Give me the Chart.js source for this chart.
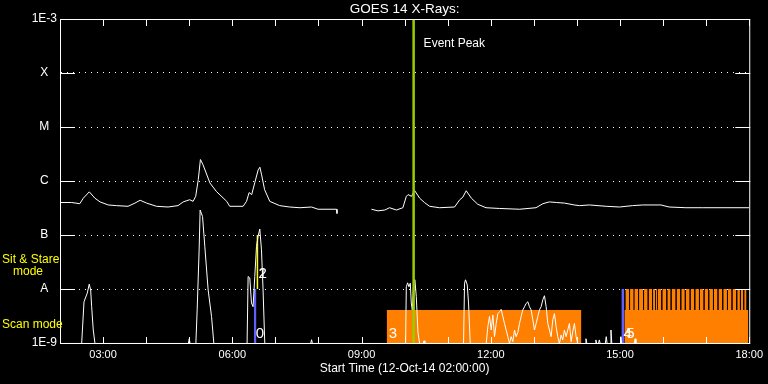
<!DOCTYPE html>
<html><head><meta charset="utf-8">
<script src="https://cdn.jsdelivr.net/npm/chart.js@4.4.0/dist/chart.umd.min.js"></script>
<style>html,body{margin:0;padding:0;background:#000;}canvas{display:block;}</style>
</head><body>
<canvas id="c" width="768" height="384"></canvas>
<script>
// ---- data (hours since 00:00 on 12-Oct-14, flux W/m^2) ----
const longTimes = [2.00,2.27,2.46,2.54,2.68,2.81,2.93,3.12,3.31,3.58,3.74,3.86,4.01,4.24,4.51,4.74,4.86,5.01,5.09,5.15,5.21,5.26,5.32,5.48,5.63,5.87,5.94,6.25,6.33,6.39,6.45,6.52,6.60,6.64,6.68,6.75,6.87,7.10,7.33,7.57,7.84,7.99,8.42,8.43,8.80,9.23,9.38,9.54,9.65,9.81,9.96,10.04,10.08,10.16,10.23,10.35,10.46,10.58,10.81,11.16,11.28,11.35,11.43,11.55,11.70,11.89,12.20,12.67,13.05,13.21,13.36,13.52,13.71,13.94,14.06,14.29,14.68,14.99,15.29,15.53,15.95,16.14,16.53,16.92,17.46,18.00];
const longFlux = [4.0e-7,4.0e-7,3.8e-7,4.8e-7,6.3e-7,4.8e-7,4.1e-7,3.6e-7,3.5e-7,3.4e-7,3.9e-7,4.4e-7,3.9e-7,3.4e-7,3.3e-7,3.5e-7,4.1e-7,4.5e-7,4.2e-7,5.2e-7,1.06e-6,2.5e-6,2.0e-6,9.2e-7,6.4e-7,4.2e-7,3.4e-7,3.4e-7,4.2e-7,6.1e-7,5.6e-7,9.2e-7,1.6e-6,1.8e-6,1.3e-6,6.9e-7,4.2e-7,3.5e-7,3.3e-7,3.2e-7,3.3e-7,3.0e-7,3.0e-7,2.5e-7,null,3.0e-7,2.8e-7,2.9e-7,3.2e-7,2.9e-7,3.2e-7,5.2e-7,5.6e-7,5.2e-7,6.7e-7,4.8e-7,4.0e-7,3.4e-7,3.2e-7,3.3e-7,4.5e-7,5.0e-7,6.6e-7,4.8e-7,3.7e-7,3.2e-7,3.1e-7,3.0e-7,3.2e-7,3.8e-7,4.1e-7,4.0e-7,3.9e-7,3.6e-7,3.5e-7,3.6e-7,3.4e-7,3.3e-7,3.5e-7,3.6e-7,3.6e-7,3.3e-7,3.2e-7,3.2e-7,3.2e-7,3.2e-7];

const shortTimes = [2.00,2.503,2.557,2.633,2.679,2.712,2.735,2.772,2.812,4.98,5.00,5.02,5.154,5.184,5.230,5.253,5.309,5.362,5.439,5.518,5.571,6.343,6.367,6.406,6.445,6.482,6.522,6.561,6.598,6.638,6.677,6.714,6.754,7.82,7.84,7.86,10.023,10.039,10.070,10.100,10.132,10.155,10.178,10.209,10.239,10.271,10.309,10.348,10.43,10.45,10.47,11.368,11.391,11.414,11.454,11.484,11.523,11.894,11.932,11.971,12.010,12.048,12.087,12.126,12.164,12.203,12.241,12.280,12.319,12.357,12.396,12.435,12.473,12.512,12.551,12.589,12.628,12.667,12.705,12.744,12.783,12.821,12.860,12.898,12.937,12.976,13.014,13.053,13.092,13.130,13.169,13.208,13.246,13.285,13.324,13.362,13.401,13.440,13.478,13.517,13.555,13.594,13.633,13.671,13.710,13.749,13.787,13.826,13.865,13.903,13.942,13.981,14.019,14.19,14.21,14.23,14.42,14.44,14.46,14.50,14.52,14.54,14.66,14.68,14.70,14.77,14.79,14.81,15.00,15.02,15.04,15.33,15.35,15.37,18.00];
const shortFlux = [9.8e-10,9.8e-10,5.8e-9,8.4e-9,1.23e-8,9.6e-9,4.7e-9,1.74e-9,9.8e-10,9.8e-10,1.2e-9,9.8e-10,9.8e-10,4.1e-9,5.3e-8,2.9e-7,2.2e-7,6.1e-8,9.6e-9,3.1e-9,9.8e-10,9.8e-10,1.7e-8,1.6e-8,5.5e-9,4.7e-9,1.7e-8,6.1e-8,9.4e-8,1.29e-7,5.3e-8,9.6e-9,9.8e-10,9.8e-10,1.15e-9,9.8e-10,9.8e-10,1.1e-8,1.3e-8,1.1e-8,1.28e-8,5.5e-9,4.1e-9,1.28e-8,1.48e-8,7.2e-9,1.6e-9,9.8e-10,9.8e-10,1.1e-9,9.8e-10,9.8e-10,1.28e-8,1.48e-8,1.19e-8,5.5e-9,9.8e-10,9.8e-10,2.0e-9,3.1e-9,1.74e-9,3.3e-9,1.31e-9,2.3e-9,3.5e-9,3.8e-9,4.2e-9,3.1e-9,2.3e-9,1.74e-9,1.31e-9,9.8e-10,1.31e-9,1.06e-9,1.74e-9,1.31e-9,1.56e-9,2.3e-9,3.1e-9,4.1e-9,4.7e-9,5.4e-9,5.8e-9,4.7e-9,4.1e-9,2.7e-9,1.74e-9,2.3e-9,3.1e-9,4.1e-9,4.7e-9,6.3e-9,7.5e-9,4.7e-9,2.3e-9,1.74e-9,1.31e-9,2.7e-9,3.5e-9,2.0e-9,1.31e-9,9.8e-10,1.41e-9,1.14e-9,1.74e-9,1.31e-9,1.74e-9,2.3e-9,1.06e-9,1.62e-9,2.3e-9,1.31e-9,9.8e-10,9.8e-10,1.2e-9,9.8e-10,9.8e-10,1.14e-9,9.8e-10,9.8e-10,1.14e-9,9.8e-10,9.8e-10,1.31e-9,9.8e-10,9.8e-10,1.74e-9,9.8e-10,9.8e-10,1.31e-9,9.8e-10,9.8e-10,1.2e-9,9.8e-10,9.8e-10];

const yTickValues = [1e-9,1e-8,1e-7,1e-6,1e-5,1e-4,1e-3];
const yTickLabels = ['1E-9','A','B','C','M','X','1E-3'];
const xLabelHours = [3,6,9,12,15,18];
const xLabelTexts = ['03:00','06:00','09:00','12:00','15:00','18:00'];

const eventPeakTime = 10.209;
const scanBlocks = [[9.583,14.104],[15.101,17.98]];
const scanLevel = 4.1e-9;
const sitLevel = 1e-8;
const sitStripes = [[15.125,15.210],[15.233,15.317],[15.333,15.419],[15.442,15.535],[15.558,15.642],[15.665,15.744],[15.767,15.820],[15.836,15.859],[15.873,15.959],[15.983,16.075],[16.099,16.175],[16.198,16.291],[16.314,16.400],[16.423,16.504],[16.527,16.616],[16.639,16.725],[16.748,16.833],[16.857,16.940],[16.963,17.049],[17.072,17.158],[17.181,17.264],[17.287,17.374],[17.397,17.483],[17.506,17.589],[17.612,17.698],[17.722,17.784],[17.807,17.861],[17.884,17.937]];
const blueBars = [[6.498,6.560],[15.032,15.101]];
const yellowBars = [[6.560,6.606]];
const yellowTop = 1e-7;
const segLabels = ['0','1','2','3','4','5'];
const segTimes = [6.498,6.560,6.560,9.583,15.032,15.101];
const segRows = ['scan','sit','sit','scan','scan','scan'];

// ---- styles ----
const ORANGE = '#ff8000', BLUE = '#6060ff', YELLOW = '#ffff00', GREEN = '#9acd00';
const FONT = 'Liberation Sans';

const pts = (ts, vs) => ts.map((t, i) => ({x: t, y: vs[i]}));
const block = (a, b, top, color, order, fill) => ({
  data: [{x: a, y: top}, {x: b, y: top}], borderWidth: 0, borderColor: 'rgba(0,0,0,0)',
  backgroundColor: color, fill: fill, pointRadius: 0, order: order
});

const datasets = [
  {data: pts(longTimes, longFlux), borderColor: '#fff', borderWidth: 1, pointRadius: 0, fill: false, spanGaps: false, order: 2},
  {data: pts(shortTimes, shortFlux), borderColor: '#fff', borderWidth: 1, pointRadius: 0, fill: false, order: 2},
  {data: [{x: eventPeakTime, y: 1e-9}, {x: eventPeakTime, y: 1e-3}], borderColor: GREEN, borderWidth: 2.5, pointRadius: 0, fill: false, order: 1},
  ...scanBlocks.map(b => block(b[0], b[1], scanLevel, ORANGE, 6, 'start')),
  ...sitStripes.map(b => block(b[0], b[1], sitLevel, ORANGE, 5, {value: scanLevel})),
  ...blueBars.map(b => block(b[0], b[1], sitLevel, BLUE, 4, 'start')),
  ...yellowBars.map(b => block(b[0], b[1], yellowTop, YELLOW, 4, {value: sitLevel}))
];

const overlay = {
  id: 'overlay',
  afterDraw(chart) {
    const {ctx, chartArea: a, scales: {x, y}} = chart;
    ctx.save();
    ctx.strokeStyle = '#fff';
    ctx.lineWidth = 1;
    ctx.beginPath();
    ctx.rect(a.left + 0.5, a.top + 0.5, a.right - a.left, a.bottom - a.top);
    y.ticks.forEach(t => {
      const p = Math.round(y.getPixelForValue(t.value)) + 0.5;
      ctx.moveTo(a.left, p); ctx.lineTo(a.left + 15, p);
      ctx.moveTo(a.right - 14, p); ctx.lineTo(a.right + 1, p);
    });
    x.ticks.forEach(t => {
      const p = Math.round(x.getPixelForValue(t.value)) + 0.5;
      ctx.moveTo(p, a.bottom); ctx.lineTo(p, a.bottom - 6);
      ctx.moveTo(p, a.top + 1); ctx.lineTo(p, a.top + 7);
    });
    ctx.stroke();

    ctx.fillStyle = '#fff';
    ctx.textBaseline = 'alphabetic';
    ctx.textAlign = 'left';
    ctx.font = '12px "' + FONT + '"';
    ctx.fillText('Event Peak', x.getPixelForValue(eventPeakTime) + 10, a.top + 28);

    ctx.font = '15px "' + FONT + '"';
    const sitBase = y.getPixelForValue(sitLevel) - 11;
    segLabels.forEach((s, i) => {
      const px = x.getPixelForValue(segTimes[i]) + 2;
      const py = segRows[i] === 'sit' ? sitBase : a.bottom - 5;
      ctx.fillText(s, px, py);
    });

    ctx.fillStyle = YELLOW;
    ctx.font = '12px "' + FONT + '"';
    const aPix = y.getPixelForValue(sitLevel);
    ctx.fillText('Sit & Stare', 2, aPix - 26);
    ctx.fillText('mode', 13, aPix - 14);
    ctx.fillText('Scan mode', 2, a.bottom - 15);
    ctx.restore();
  }
};

new Chart(document.getElementById('c'), {
  type: 'line',
  data: {datasets},
  options: {
    responsive: false, animation: false, devicePixelRatio: 1,
    layout: {padding: {left: 0, right: 18, top: 0, bottom: 0}},
    plugins: {
      legend: {display: false},
      tooltip: {enabled: false},
      title: {display: true, text: 'GOES 14 X-Rays:', color: '#fff', fullSize: false,
        font: {family: FONT, size: 13.5, weight: 'normal', lineHeight: 1}, padding: {top: 3, bottom: 2.5}}
    },
    scales: {
      x: {
        type: 'linear', min: 2, max: 18, position: 'bottom',
        afterFit(s) { s.height = 41; },
        ticks: {stepSize: 1, autoSkip: false, maxRotation: 0, color: '#fff', padding: 5,
          font: {family: FONT, size: 11},
          callback(v) { const i = xLabelHours.indexOf(v); return i < 0 ? '' : xLabelTexts[i]; }},
        grid: {display: false, drawTicks: false},
        border: {display: false},
        title: {display: true, text: 'Start Time (12-Oct-14 02:00:00)', color: '#fff',
          font: {family: FONT, size: 12}, padding: {top: 0, bottom: 8}}
      },
      y: {
        type: 'logarithmic', min: 1e-9, max: 1e-3,
        afterFit(s) { s.width = 60; },
        afterBuildTicks(s) { s.ticks = yTickValues.map(v => ({value: v})); },
        ticks: {autoSkip: false, color: '#fff', padding: 3, crossAlign: 'center',
          font: {family: FONT, size: 12},
          callback(v) { const i = yTickValues.indexOf(v); return i < 0 ? '' : yTickLabels[i]; }},
        grid: {color: '#fff', lineWidth: 1, drawTicks: false},
        border: {display: false, dash: [1, 5], dashOffset: 5}
      }
    }
  },
  plugins: [overlay]
});
</script>
</body></html>
